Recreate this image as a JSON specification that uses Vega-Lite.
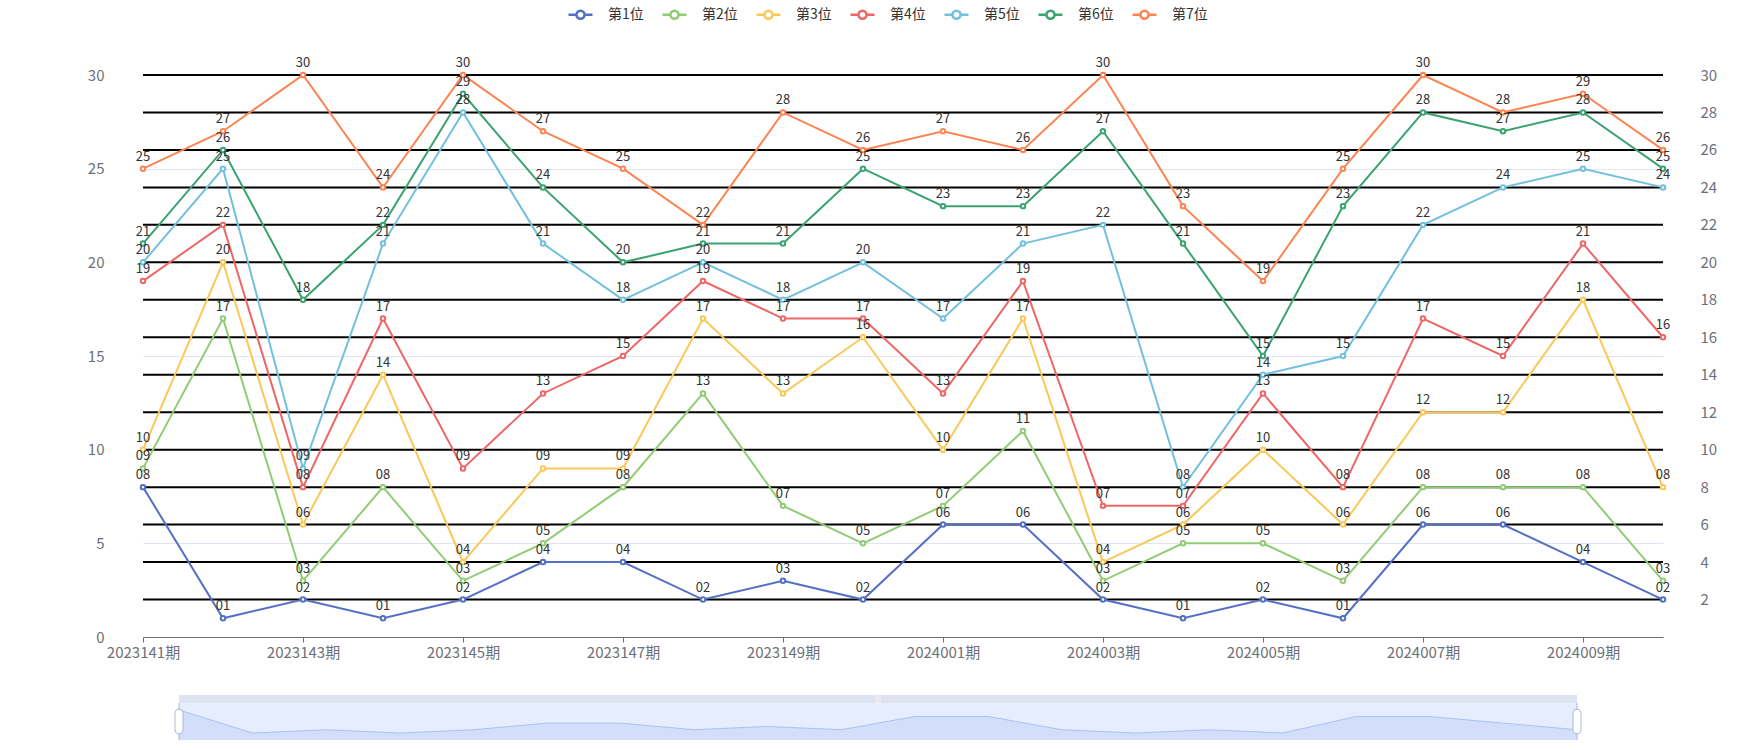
{
  "$schema": "https://vega.github.io/schema/vega-lite/v6.json",
  "autosize": {"type": "none"},
  "width": 1520,
  "height": 562,
  "padding": {"left": 143, "top": 75, "right": 87, "bottom": 113},
  "background": "white",
  "config": {
    "font": "Noto Sans CJK SC",
    "view": {"stroke": null},
    "axis": {"labelFont": "Noto Sans CJK SC", "labelColor": "#6E7079", "labelFontSize": 15, "title": null},
    "legend": {"labelFont": "Noto Sans CJK SC"}
  },
  "datasets": {
    "draw": [
      {"p": "2023141期", "第1位": 8, "第2位": 9, "第3位": 10, "第4位": 19, "第5位": 20, "第6位": 21, "第7位": 25},
      {"p": "2023142期", "第1位": 1, "第2位": 17, "第3位": 20, "第4位": 22, "第5位": 25, "第6位": 26, "第7位": 27},
      {"p": "2023143期", "第1位": 2, "第2位": 3, "第3位": 6, "第4位": 8, "第5位": 9, "第6位": 18, "第7位": 30},
      {"p": "2023144期", "第1位": 1, "第2位": 8, "第3位": 14, "第4位": 17, "第5位": 21, "第6位": 22, "第7位": 24},
      {"p": "2023145期", "第1位": 2, "第2位": 3, "第3位": 4, "第4位": 9, "第5位": 28, "第6位": 29, "第7位": 30},
      {"p": "2023146期", "第1位": 4, "第2位": 5, "第3位": 9, "第4位": 13, "第5位": 21, "第6位": 24, "第7位": 27},
      {"p": "2023147期", "第1位": 4, "第2位": 8, "第3位": 9, "第4位": 15, "第5位": 18, "第6位": 20, "第7位": 25},
      {"p": "2023148期", "第1位": 2, "第2位": 13, "第3位": 17, "第4位": 19, "第5位": 20, "第6位": 21, "第7位": 22},
      {"p": "2023149期", "第1位": 3, "第2位": 7, "第3位": 13, "第4位": 17, "第5位": 18, "第6位": 21, "第7位": 28},
      {"p": "2023150期", "第1位": 2, "第2位": 5, "第3位": 16, "第4位": 17, "第5位": 20, "第6位": 25, "第7位": 26},
      {"p": "2024001期", "第1位": 6, "第2位": 7, "第3位": 10, "第4位": 13, "第5位": 17, "第6位": 23, "第7位": 27},
      {"p": "2024002期", "第1位": 6, "第2位": 11, "第3位": 17, "第4位": 19, "第5位": 21, "第6位": 23, "第7位": 26},
      {"p": "2024003期", "第1位": 2, "第2位": 3, "第3位": 4, "第4位": 7, "第5位": 22, "第6位": 27, "第7位": 30},
      {"p": "2024004期", "第1位": 1, "第2位": 5, "第3位": 6, "第4位": 7, "第5位": 8, "第6位": 21, "第7位": 23},
      {"p": "2024005期", "第1位": 2, "第2位": 5, "第3位": 10, "第4位": 13, "第5位": 14, "第6位": 15, "第7位": 19},
      {"p": "2024006期", "第1位": 1, "第2位": 3, "第3位": 6, "第4位": 8, "第5位": 15, "第6位": 23, "第7位": 25},
      {"p": "2024007期", "第1位": 6, "第2位": 8, "第3位": 12, "第4位": 17, "第5位": 22, "第6位": 28, "第7位": 30},
      {"p": "2024008期", "第1位": 6, "第2位": 8, "第3位": 12, "第4位": 15, "第5位": 24, "第6位": 27, "第7位": 28},
      {"p": "2024009期", "第1位": 4, "第2位": 8, "第3位": 18, "第4位": 21, "第5位": 25, "第6位": 28, "第7位": 29},
      {"p": "2024010期", "第1位": 2, "第2位": 3, "第3位": 8, "第4位": 16, "第5位": 24, "第6位": 25, "第7位": 26}
    ],
    "lines": [
      {"y": 2}, {"y": 4}, {"y": 6}, {"y": 8}, {"y": 10}, {"y": 12}, {"y": 14}, {"y": 16},
      {"y": 18}, {"y": 20}, {"y": 22}, {"y": 24}, {"y": 26}, {"y": 28}, {"y": 30}
    ]
  },
  "layer": [
    {
      "data": {"name": "lines"},
      "mark": {"type": "rule", "color": "#000000", "strokeWidth": 2},
      "encoding": {
        "y": {
          "field": "y", "type": "quantitative",
          "scale": {"domain": [0, 30], "nice": false},
          "axis": {"orient": "right", "values": [2, 4, 6, 8, 10, 12, 14, 16, 18, 20, 22, 24, 26, 28, 30], "grid": false, "domain": false, "ticks": false, "tickSize": 0, "labelPadding": 37, "title": null}
        }
      }
    },
    {
      "data": {"name": "draw"},
      "transform": [{"fold": ["第1位", "第2位", "第3位", "第4位", "第5位", "第6位", "第7位"], "as": ["s", "v"]}],
      "encoding": {
        "x": {
          "field": "p", "type": "ordinal",
          "scale": {"type": "point", "padding": 0, "domain": ["2023141期", "2023142期", "2023143期", "2023144期", "2023145期", "2023146期", "2023147期", "2023148期", "2023149期", "2023150期", "2024001期", "2024002期", "2024003期", "2024004期", "2024005期", "2024006期", "2024007期", "2024008期", "2024009期", "2024010期"]},
          "axis": {"values": ["2023141期", "2023143期", "2023145期", "2023147期", "2023149期", "2024001期", "2024003期", "2024005期", "2024007期", "2024009期"], "labelAngle": 0, "domainColor": "#6E7079", "tickColor": "#6E7079", "tickSize": 5, "labelPadding": 3, "grid": false, "title": null}
        },
        "y": {
          "field": "v", "type": "quantitative",
          "scale": {"domain": [0, 30], "nice": false},
          "axis": {"orient": "left", "values": [0, 5, 10, 15, 20, 25, 30], "grid": true, "gridColor": "#E0E6F1", "domain": false, "ticks": false, "tickSize": 0, "labelPadding": 39, "title": null}
        },
        "color": {
          "field": "s", "type": "nominal",
          "scale": {"domain": ["第1位", "第2位", "第3位", "第4位", "第5位", "第6位", "第7位"], "range": ["#5470c6", "#91cc75", "#fac858", "#ee6666", "#73c0de", "#3ba272", "#fc8452"]},
          "legend": {
            "orient": "none", "legendX": 424, "legendY": -74, "direction": "horizontal", "columns": 7, "title": null,
            "symbolType": "M-1,0H-0.34M0.34,0H1M0.34,0A0.34,0.34 0 1,1 -0.34,0A0.34,0.34 0 1,1 0.34,0",
            "symbolSize": 576, "symbolStrokeWidth": 2.5, "labelFontSize": 14, "labelColor": "#333333", "labelOffset": 14, "columnPadding": 13,
            "encode": {"symbols": {"update": {"fill": {"value": "white"}, "strokeWidth": {"value": 2.5}}}}
          }
        }
      },
      "layer": [
        {"mark": {"type": "line", "strokeWidth": 2}},
        {"mark": {"type": "point", "filled": false, "fill": "white", "size": 20, "strokeWidth": 2, "opacity": 1}},
        {
          "mark": {"type": "text", "dy": -12, "fontSize": 13, "baseline": "middle"},
          "encoding": {"text": {"field": "v", "type": "quantitative", "format": "02d"}, "color": {"value": "#333333"}}
        }
      ]
    },
    {
      "layer": [
        {
          "data": {"name": "draw"},
          "transform": [
            {"window": [{"op": "row_number", "as": "i"}]},
            {"aggregate": [{"op": "min", "field": "i", "as": "i0"}, {"op": "max", "field": "i", "as": "i1"}]}
          ],
          "mark": {"type": "rect", "color": "#E6EDFD"},
          "encoding": {
            "x": {"field": "i0", "type": "quantitative", "scale": {"domain": [1, 20], "range": [36, 1434], "nice": false, "zero": false}, "axis": null},
            "x2": {"field": "i1"},
            "y": {"datum": -1.1, "type": "quantitative", "scale": {"domain": [-1.1, 10.1], "range": [665, 628], "nice": false, "zero": false}, "axis": null},
            "y2": {"datum": 10.1}
          }
        },
        {
          "data": {"name": "draw"},
          "transform": [
            {"window": [{"op": "row_number", "as": "i"}]},
            {"aggregate": [{"op": "min", "field": "i", "as": "i0"}, {"op": "max", "field": "i", "as": "i1"}]}
          ],
          "mark": {"type": "rect", "color": "#DEE3F1"},
          "encoding": {
            "x": {"field": "i0", "type": "quantitative", "axis": null},
            "x2": {"field": "i1"},
            "y": {"datum": 10.1, "type": "quantitative", "axis": null},
            "y2": {"datum": 12.5}
          }
        },
        {
          "data": {"name": "draw"},
          "transform": [{"window": [{"op": "row_number", "as": "i"}]}],
          "mark": {"type": "area", "color": "#D3DFFA"},
          "encoding": {
            "x": {"field": "i", "type": "quantitative", "axis": null},
            "y": {"field": "第1位", "type": "quantitative", "axis": null},
            "y2": {"datum": -1.1}
          }
        },
        {
          "data": {"name": "draw"},
          "transform": [{"window": [{"op": "row_number", "as": "i"}]}],
          "mark": {"type": "line", "color": "#A9C1F6", "strokeWidth": 1},
          "encoding": {
            "x": {"field": "i", "type": "quantitative", "axis": null},
            "y": {"field": "第1位", "type": "quantitative", "axis": null}
          }
        },
        {
          "data": {"name": "draw"},
          "transform": [
            {"window": [{"op": "row_number", "as": "i"}]},
            {"filter": "datum.i == 1 || datum.i == 20"}
          ],
          "mark": {"type": "rule", "color": "#ACB8D1", "strokeWidth": 1},
          "encoding": {
            "x": {"field": "i", "type": "quantitative", "axis": null},
            "y": {"datum": -1.1, "type": "quantitative", "axis": null},
            "y2": {"datum": 10.1}
          }
        },
        {
          "data": {"name": "draw"},
          "transform": [
            {"window": [{"op": "row_number", "as": "i"}]},
            {"filter": "datum.i == 1 || datum.i == 20"}
          ],
          "mark": {"type": "rule", "color": "#ACB8D1", "strokeWidth": 9, "strokeCap": "round"},
          "encoding": {
            "x": {"field": "i", "type": "quantitative", "axis": null},
            "y": {"datum": 2, "type": "quantitative", "axis": null},
            "y2": {"datum": 7}
          }
        },
        {
          "data": {"name": "draw"},
          "transform": [
            {"window": [{"op": "row_number", "as": "i"}]},
            {"filter": "datum.i == 1 || datum.i == 20"}
          ],
          "mark": {"type": "rule", "color": "#FFFFFF", "strokeWidth": 7, "strokeCap": "round"},
          "encoding": {
            "x": {"field": "i", "type": "quantitative", "axis": null},
            "y": {"datum": 2, "type": "quantitative", "axis": null},
            "y2": {"datum": 7}
          }
        },
        {
          "data": {"name": "draw"},
          "transform": [
            {"window": [{"op": "row_number", "as": "i"}]},
            {"aggregate": [{"op": "min", "field": "i", "as": "i0"}, {"op": "max", "field": "i", "as": "i1"}]}
          ],
          "mark": {"type": "text", "color": "#FFFFFF", "fontSize": 7, "baseline": "middle", "text": "|||"},
          "encoding": {
            "x": {"datum": 10.5, "type": "quantitative", "axis": null},
            "y": {"datum": 11.3, "type": "quantitative", "axis": null}
          }
        }
      ]
    }
  ],
  "resolve": {"scale": {"x": "independent", "y": "independent", "color": "independent"}}
}
